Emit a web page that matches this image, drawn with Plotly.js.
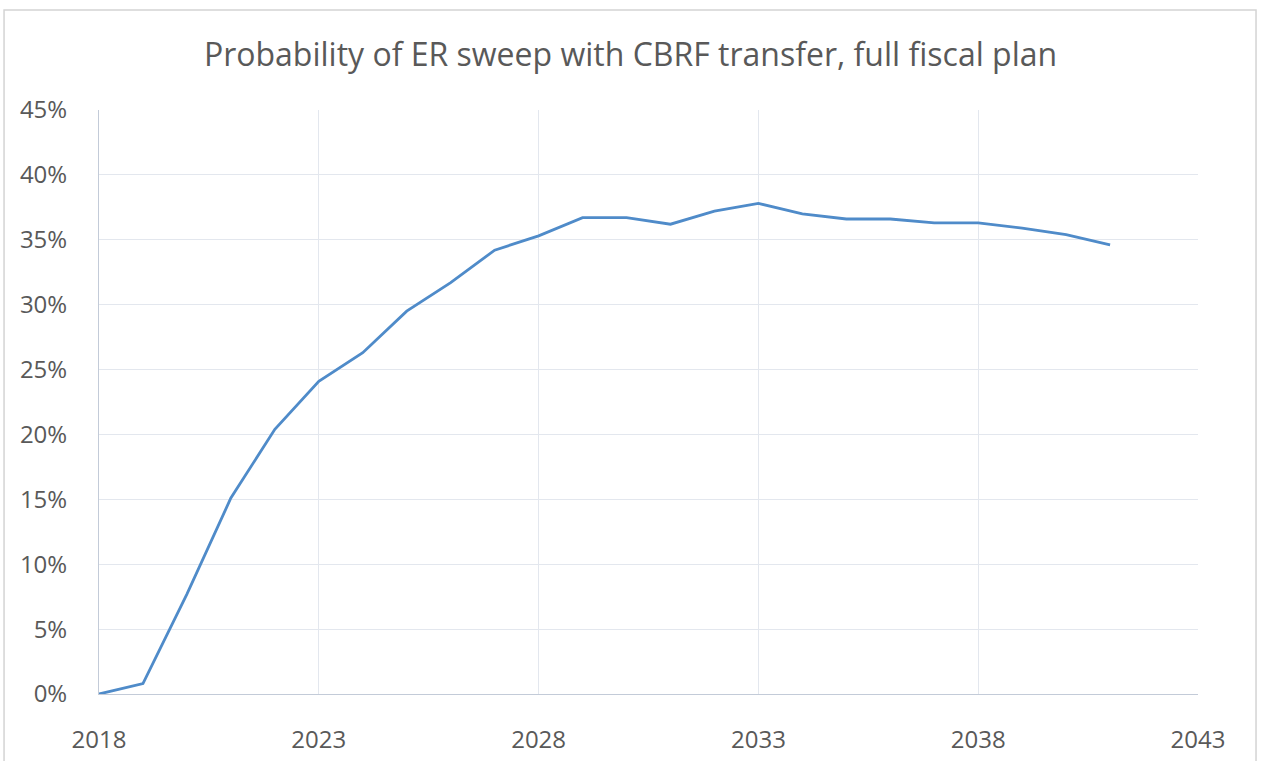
<!DOCTYPE html>
<html>
<head>
<meta charset="utf-8">
<script src="https://cdn.plot.ly/plotly-3.0.1.min.js"></script>
<style>
html,body{margin:0;padding:0;background:#fff;}
#chart{width:1261px;height:761px;}
</style>
</head>
<body>
<div id="chart"></div>
<script>
var years = [2018,2019,2020,2021,2022,2023,2024,2025,2026,2027,2028,2029,2030,2031,2032,2033,2034,2035,2036,2037,2038,2039,2040,2041];
var probability = [0.000,0.008,0.077,0.151,0.204,0.241,0.263,0.295,0.317,0.342,0.353,0.367,0.367,0.362,0.372,0.378,0.370,0.366,0.366,0.363,0.363,0.359,0.354,0.346];
var xTicks = [2018,2023,2028,2033,2038,2043];
var yTicks = [0,0.05,0.10,0.15,0.20,0.25,0.30,0.35,0.40,0.45];
var chartTitle = "Probability of ER sweep with CBRF transfer, full fiscal plan";

var trace = {
  x: years, y: probability, type: 'scatter', mode: 'lines',
  line: {color: '#4f8bc9', width: 2.8},
  hoverinfo: 'x+y'
};

var layout = {
  width: 1261, height: 761,
  margin: {l: 99, r: 63, t: 110, b: 67},
  paper_bgcolor: '#ffffff', plot_bgcolor: '#ffffff',
  showlegend: false,
  title: {text: chartTitle, x: 0.5, xanchor: 'center', y: 0.928, yanchor: 'middle',
          font: {family: 'Open Sans, sans-serif', size: 32, color: '#595959'}},
  font: {family: 'Open Sans, sans-serif', color: '#595959'},
  xaxis: {
    range: [2018, 2043], tickvals: xTicks, ticktext: xTicks.map(String),
    showgrid: true, gridcolor: '#e3e7ee', gridwidth: 1,
    showline: true, linecolor: '#c3cbd8', linewidth: 1,
    zeroline: false, ticks: '', ticklen: 0, ticklabelstandoff: 24,
    tickfont: {size: 24, color: '#595959'}
  },
  yaxis: {
    range: [0, 0.45], tickvals: yTicks, tickformat: '.0%',
    showgrid: true, gridcolor: '#e3e7ee', gridwidth: 1,
    showline: true, linecolor: '#c3cbd8', linewidth: 1,
    zeroline: false, ticks: '', ticklen: 0, ticklabelstandoff: 26,
    tickfont: {size: 24, color: '#595959'}
  },
  shapes: [{
    type: 'rect', xref: 'paper', yref: 'paper',
    x0: -0.0864, x1: 1.0528, y0: -0.13, y1: 1.1712,
    line: {color: '#d4d4d4', width: 1.5}, fillcolor: 'rgba(0,0,0,0)', layer: 'below'
  }]
};

Plotly.newPlot('chart', [trace], layout, {displayModeBar: false, staticPlot: true});
</script>
</body>
</html>
